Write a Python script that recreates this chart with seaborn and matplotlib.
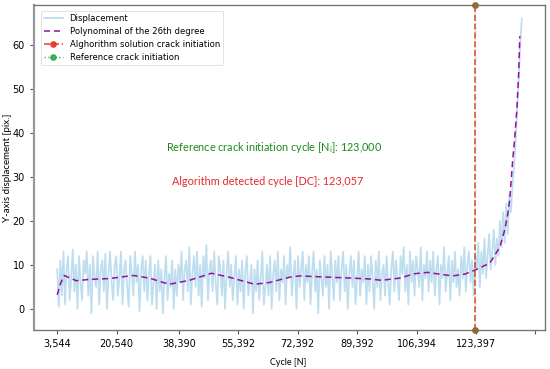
import numpy as np
import pandas as pd
import matplotlib
matplotlib.use("Agg")
import matplotlib.pyplot as plt
import seaborn as sns

# ---------------- data ----------------
cycle_start = 3544
cycle_end = 136526
displacement = [
    9, 0.5, 11, 3, 13, 1, 9, 12, 2, 7, 13.5, 4, 10, 0, 12, 6, 2, 11, 8, 13,
    3, 10, -1, 12, 7, 5, 13, 1, 9, 11, 4, 12.5, 0, 8, 13, 6, 2, 10, 12, 3,
    7, 13, 1, 9, 11, 5, 0.5, 12, 8, 3, 13, 6, 10, -0.5, 9, 12, 4, 11, 2, 8,
    12, 1, 6, 10, 0, 11, 4, 9, -1, 7, 12, 2, 8, 5, 11, 0, 9, 3, 10, 6,
    13, 2, 9, 11, 4, 14, 1, 8, 12, 5, 13, 3, 10, 0.5, 12, 7, 14.5, 2, 9, 11,
    4, 13, 6, 1, 12, 9, 3, 11, 0, 8, 13, 5, 10, 2, 7, 12, 1, 9, 4, 11,
    0, 8, 12, 3, 6, 10, -1, 9, 4, 11, 2, 7, 13, 1, 5, 10, 3, 12, 0, 8,
    11, 4, 13, 2, 9, 6, 12, 1, 10, 7, 14, 3, 8, 11, 0, 12, 5, 9, 13, 2,
    10, 6, 12, 1, 8, 13, 4, 9, -1, 11, 7, 3, 12, 5, 10, 0, 13, 8, 2, 11,
    6, 12, 2, 9, 13, 4, 10, 0, 8, 12, 5, 11, 1, 7, 13, 3, 9, 6, 12, 1,
    10, 4, 12, 7, 0, 11, 5, 13, 2, 8, 10, 3, 12, 6, 1, 9, 13, 4, 11, 7,
    2, 12, 8, 14, 4, 10, 1, 13, 6, 11, 3, 12, 9, 5, 14, 2, 10, 7, 13, 4,
    11, 6, 13, 3, 9, 12, 1, 10, 7, 14, 4, 8, 12, 2, 11, 6, 13, 5, 9, 3,
    12, 7, 14, 4, 10, 13, 6, 11, 3, 12, 9, 15, 5, 13, 8, 16, 7, 12, 17, 9,
    13, 18, 10, 16, 12, 20, 14, 22, 15, 24, 17, 26, 22, 28, 32, 38, 45, 52, 60, 66,
]
poly_cycles = [3544, 4500, 5550, 8989, 12715, 18447, 25326, 29911, 33924, 35643,
               41375, 47680, 52839, 60004, 64303, 70035, 72901, 78633, 87804,
               92963, 96402, 101561, 105860, 109586, 113025, 116751, 120190,
               123057, 127356, 130222, 131655, 132515, 133088, 133948, 134521,
               135094, 135667, 135954]
poly_values = [3.2, 5.8, 7.6, 6.4, 6.7, 6.9, 7.6, 7.0, 6.0, 5.6,
               6.5, 8.1, 7.2, 5.6, 6.0, 7.2, 7.5, 7.3, 7.0,
               6.8, 6.5, 7.0, 8.0, 8.3, 7.9, 7.5, 7.9,
               8.8, 10.4, 14, 18, 21.5, 25, 34, 39,
               45, 54, 62]
detected_cycle = 123057
reference_cycle = 123000
tick_values = [3544, 20540, 38390, 55392, 72392, 89392, 106394, 123397, 140399]
tick_labels = ["3,544", "20,540", "38,390", "55,392", "72,392", "89,392",
               "106,394", "123,397", ""]
y_limits = (-4.8, 69.1)

cycles = np.linspace(cycle_start, cycle_end, len(displacement))
df = pd.DataFrame({"cycle": cycles, "disp": displacement})
dfp = pd.DataFrame({"cycle": poly_cycles, "poly": poly_values})

# ---------------- figure ----------------
fig = plt.figure(figsize=(5.5, 3.69), dpi=100)
ax = fig.add_axes([34 / 550, 1 - 330 / 369, (545 - 34) / 550, (330 - 5) / 369])

sns.lineplot(data=df, x="cycle", y="disp", ax=ax, color="#b3d9ee", lw=1.3,
             alpha=0.85, label="Displacement")
sns.lineplot(data=dfp, x="cycle", y="poly", ax=ax, color="#9a0f9a", lw=1.1,
             linestyle=(0, (4, 2.5)), label="Polynominal of the 26th degree")
ax.plot([detected_cycle, detected_cycle], list(y_limits), "--o", color="#ee2a1a",
        lw=1.2, ms=3.8, alpha=0.85, clip_on=False, zorder=4,
        label="Alghorithm solution crack initiation")
ax.plot([reference_cycle, reference_cycle], list(y_limits), ":o", color="#22aa44",
        lw=1.0, ms=3.8, alpha=0.4, clip_on=False, zorder=5,
        label="Reference crack initiation")

ax.set_ylim(*y_limits)
ax.set_xlim(cycle_start - 0.05 * (cycle_end - cycle_start),
            cycle_end + 0.05 * (cycle_end - cycle_start))
ax.set_xticks(tick_values)
ax.set_xticklabels(tick_labels)
ax.set_yticks([0, 10, 20, 30, 40, 50, 60])
ax.tick_params(labelsize=7, length=3, width=0.8, color="#555555")

for s in ax.spines.values():
    s.set_color("#777777")
    s.set_linewidth(1.0)
ax.spines["left"].set_linewidth(1.6)
ax.spines["left"].set_color("#999999")

ax.set_xlabel("Cycle [N]", fontsize=6.5, family="Lato")
ax.xaxis.set_label_coords((288 - 34) / 511, -(358 - 330) / 325)
ax.set_ylabel("Y-axis displacement [pix.]", fontsize=7, family="Lato")
ax.yaxis.set_label_coords(-(34 - 12) / 511, 0.5)

ax.text(34783, 36.6, r"Reference crack initiation cycle [N$_\mathregular{i}$]: 123,000",
        color="#1a8a1a", fontsize=7.8, family="Lato", va="center")
ax.text(36500, 28.9, "Algorithm detected cycle [DC]: 123,057",
        color="#e8262a", fontsize=7.8, family="Lato", va="center")

leg = ax.legend(loc="upper left", fontsize=6.1, frameon=True, framealpha=1,
                edgecolor="#dddddd", borderpad=0.4, labelspacing=0.45,
                handlelength=2.2, bbox_to_anchor=(0.005, 0.995))
leg.get_frame().set_linewidth(0.6)
leg.legend_handles[3].set_alpha(0.85)

fig.savefig("out.png", dpi=100)
